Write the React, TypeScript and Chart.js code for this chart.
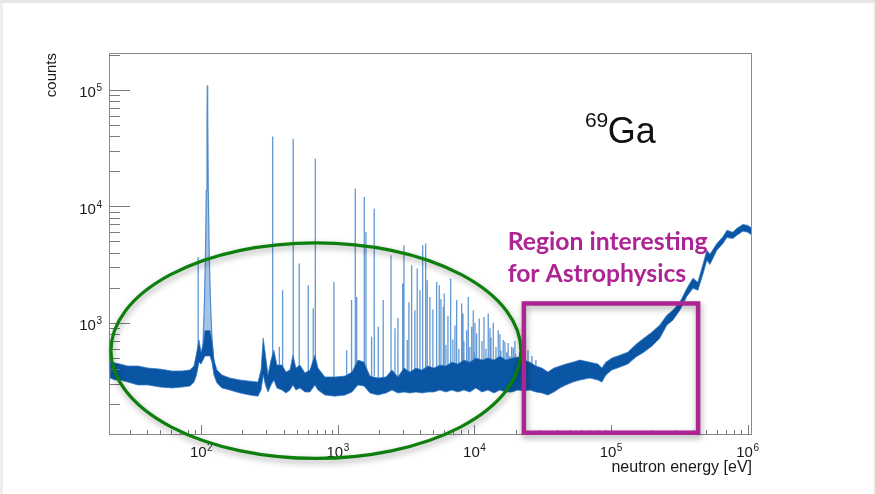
import React, { useEffect, useRef } from 'react';
import { Chart, registerables } from 'chart.js';

Chart.register(...registerables);

// ---------- data ----------
// smooth background band of the spectrum: energy [eV], lower / upper edge of the noise band [counts]
const bandEnergy = [
  21.5, 23.4, 25.4, 29.0, 34.4, 40.7, 49.8, 61.0, 72.3, 82.6, 88.5, 92.3, 96.2, 99.5, 102.9, 106.4,
  115.8, 119.8, 123.8, 130.2, 141.7, 162, 192, 227, 260, 274, 284, 295, 308, 324, 340, 358, 390, 417,
  446, 469, 493, 528, 574, 625, 679, 715, 804, 952, 1128, 1268, 1403, 1553, 1718, 1966, 2251, 2490,
  2754, 3046, 3370, 3730, 4127, 4565, 5050, 5587, 6180, 6838, 7565, 8370, 9250, 10240, 11350, 12550,
  13890, 15370, 17010, 18820, 20820, 23040, 25470, 28180, 31180, 34490, 38160, 42250, 46730, 52600,
  59200, 70000, 80100, 85700, 91700, 101400, 116200, 132800, 152000, 173900, 199000, 227600, 256600,
  283800, 319300, 359500, 398000, 432600, 470700, 503500, 529700, 596000, 659500, 705300, 779600,
  835500, 924000, 1004000, 1077000,
];
const bandLow = [
  336, 323, 323, 310, 293, 293, 281, 276, 281, 287, 310, 357, 460, 443, 479, 520,
  520, 460, 357, 304, 276, 265, 250, 240, 235, 265, 357, 293, 255, 293, 323, 276, 265, 250,
  265, 293, 265, 276, 255, 255, 293, 265, 240, 235, 240, 255, 293, 287, 250, 240, 250, 265,
  250, 255, 250, 255, 250, 255, 255, 265, 255, 265, 255, 265, 255, 276, 255, 265,
  250, 265, 255, 255, 265, 260, 265, 255, 250, 240, 255, 276, 293, 310,
  323, 336, 323, 310, 357, 394, 417, 443, 508, 560, 631, 739, 956,
  1055, 1285, 1690, 1980, 1905, 2612, 3450, 3170, 4200, 4800, 5400, 5290,
  5650, 6120, 5990, 5650,
];
const bandHigh = [
  470, 452, 443, 426, 426, 409, 401, 386, 386, 394, 426, 550, 711, 560, 644, 860,
  860, 711, 479, 394, 357, 336, 323, 316, 310, 394, 739, 528, 357, 479, 583, 434, 434, 378,
  394, 528, 409, 434, 371, 394, 528, 409, 343, 343, 349, 378, 479, 460, 349, 336, 343, 394,
  343, 409, 378, 409, 394, 426, 409, 434, 426, 460, 443, 479, 460, 499, 479, 499,
  479, 518, 479, 499, 508, 479, 460, 426, 409, 378, 409, 426, 443, 460,
  479, 460, 443, 409, 460, 499, 528, 560, 652, 739, 832, 956, 1164,
  1285, 1500, 1980, 2415, 2230, 3170, 4200, 3880, 4800, 5480, 6225, 5990,
  6480, 6990, 6860, 6480,
];

// the strong s-wave resonance near 110 eV (profile)
const resonanceEnergy = [99.5, 102.9, 105.5, 107.4, 108.8, 110.1, 110.6, 111.4, 112.5, 114.2, 116.7, 119.8, 123.8];
const resonanceCounts = [460, 644, 1565, 4200, 13700, 54600, 109000, 66500, 13700, 4200, 1565, 711, 460];

// narrow resonances: energy [eV], peak counts, counts at the foot of the peak
const peakEnergy = [
  94.9, 333, 373, 394, 471, 521, 607, 660, 684, 936, 1160, 1260, 1341, 1373, 1561, 1606, 1766, 1847,
  1976, 2148, 2448, 2618, 2754, 2981, 3046, 3221, 3313, 3468, 3664, 3811, 3990, 4176, 4393, 4512, 4721,
  4966, 5285, 5525, 5684, 5917, 6010, 6180, 6397, 6695, 6950, 7198, 7407, 7690, 8060, 8241, 8370, 8770,
  9015, 9250, 9550, 9800, 10000, 10090, 10370, 10840, 11350, 11740, 12140, 12620, 12990, 13210, 13740,
  14370, 14940, 15370, 15620, 16250, 16720, 17230, 17660, 18120, 18720, 19230, 19780, 20030, 21520,
  22940, 24660, 26350, 28180,
];
const peakCounts = [
  3680, 39800, 623, 1905, 38000, 3230, 2100, 1336, 25600, 2245, 583, 1567, 14200, 1670, 12000, 6030, 759, 9550,
  925, 1567, 3800, 900, 1100, 2178, 4640, 711, 1500, 3120, 1285, 2925, 1900, 4640, 4790, 2325, 1670,
  1300, 2245, 2100, 1600, 1372, 1785, 650, 1150, 2400, 720, 950, 1567, 600, 1466, 1200, 700, 866,
  1670, 620, 925, 1285, 560, 1000, 811, 1090, 700, 1125, 600, 1200, 900, 750, 1000,
  620, 866, 800, 580, 711, 687, 560, 670, 520, 623, 610, 700, 540, 560,
  500, 583, 520, 480,
];
const peakBase = [
  500, 400, 350, 380, 450, 380, 350, 380, 450, 330, 330, 340, 380, 400, 420, 400, 330, 350,
  320, 330, 360, 340, 340, 340, 360, 330, 340, 340, 340, 350, 350, 360, 360, 350, 350,
  350, 360, 360, 360, 360, 360, 360, 360, 380, 380, 380, 380, 380, 380, 380, 380, 380,
  380, 380, 380, 380, 380, 380, 380, 380, 380, 380, 380, 380, 380, 380, 380,
  380, 380, 380, 380, 380, 380, 380, 380, 380, 380, 380, 380, 380, 380,
  380, 380, 380, 380,
];

// axes
const xMin = 21.1;
const xMax = 1077000;
const yMin = 109;
const yMax = 207000;
const xDecades = [2, 3, 4, 5, 6];
const yDecades = [3, 4, 5];
const xTitle = 'neutron energy [eV]';
const yTitle = 'counts';

// annotations (data units)
const isotopeMass = '69';
const isotopeName = 'Ga';
const isotopeMassAt = { x: 64400, y: 47500 };
const isotopeNameAt = { x: 94800, y: 34800 };
const regionLines = ['Region interesting', 'for Astrophysics'];
const regionTextAt = [{ x: 17500, y: 4190 }, { x: 17500, y: 2246 }];
const regionBox = { x0: 23000, x1: 434000, y0: 114, y1: 1466 };
const ellipseBox = { x0: 21.8, x1: 21900, y0: 68.6, y1: 4860 };

// ---------- styling ----------
const FONT = '"Liberation Sans", Arial, Helvetica, sans-serif';
const BAND = '#0b56a4';
const MAGENTA = '#ad2593';
const GREEN = '#0d7f0d';

const overlayPlugin = {
  id: 'rootStyle',
  beforeDraw(chart: any) {
    const { ctx, width, height } = chart;
    ctx.save();
    ctx.fillStyle = '#ffffff';
    ctx.fillRect(0, 0, width, height);
    ctx.fillStyle = '#e6e6e6';
    ctx.fillRect(0, 0, width, 3);
    ctx.fillStyle = '#eeeeee';
    ctx.fillRect(0, 3, 3, height - 3);
    ctx.fillStyle = '#f1f1f1';
    ctx.fillRect(width - 2, 3, 2, height - 3);
    ctx.restore();
  },
  afterDatasetsDraw(chart: any) {
    const { ctx, chartArea: a } = chart;
    const xs = chart.scales.x;
    const ys = chart.scales.y;
    ctx.save();
    // frame
    ctx.strokeStyle = '#8a8a8a';
    ctx.lineWidth = 1;
    ctx.strokeRect(Math.round(a.left) + 0.5, Math.round(a.top) + 0.5, Math.round(a.right - a.left) - 1, Math.round(a.bottom - a.top) - 1);
    // y ticks (inside)
    ctx.strokeStyle = '#7a7a7a';
    ctx.beginPath();
    for (let n = 2; n <= 5; n++) {
      for (let k = 1; k <= 9; k++) {
        const v = k * Math.pow(10, n);
        if (v < yMin || v > yMax) continue;
        const py = Math.round(ys.getPixelForValue(v)) + 0.5;
        const len = k === 1 ? 21 : 11;
        ctx.moveTo(a.left, py);
        ctx.lineTo(a.left + len, py);
      }
    }
    // x ticks (inside)
    for (let n = 1; n <= 6; n++) {
      for (let k = 1; k <= 9; k++) {
        const v = k * Math.pow(10, n);
        if (v < xMin || v > xMax) continue;
        const px = Math.round(xs.getPixelForValue(v)) + 0.5;
        const len = k === 1 ? 10 : 5;
        ctx.moveTo(px, a.bottom);
        ctx.lineTo(px, a.bottom - len);
      }
    }
    ctx.stroke();

    // tick labels 10^n
    ctx.fillStyle = '#1a1a1a';
    ctx.textBaseline = 'alphabetic';
    ctx.textAlign = 'left';
    const big = `15px ${FONT}`;
    const small = `10px ${FONT}`;
    for (const e of yDecades) {
      const py = ys.getPixelForValue(Math.pow(10, e));
      ctx.font = big;
      const w10 = ctx.measureText('10').width;
      ctx.font = small;
      const we = ctx.measureText(String(e)).width;
      const right = a.left - 7;
      const start = right - we - w10 - 0.5;
      ctx.font = big;
      ctx.fillText('10', start, py + 7.5);
      ctx.font = small;
      ctx.fillText(String(e), start + w10 + 0.5, py + 1.5);
    }
    for (const e of xDecades) {
      const px = xs.getPixelForValue(Math.pow(10, e));
      ctx.font = big;
      const w10 = ctx.measureText('10').width;
      ctx.font = small;
      const we = ctx.measureText(String(e)).width;
      const start = px - (w10 + we + 0.5) / 2;
      ctx.font = big;
      ctx.fillText('10', start, a.bottom + 22);
      ctx.font = small;
      ctx.fillText(String(e), start + w10 + 0.5, a.bottom + 15.5);
    }

    // axis titles
    ctx.font = `16px ${FONT}`;
    ctx.textAlign = 'right';
    ctx.fillText(xTitle, a.right, a.bottom + 37);
    ctx.save();
    ctx.translate(52, a.top);
    ctx.rotate(-Math.PI / 2);
    ctx.font = `15px ${FONT}`;
    ctx.textAlign = 'right';
    ctx.textBaseline = 'middle';
    ctx.fillText(yTitle, 0, 0);
    ctx.restore();
    ctx.restore();
  },
  afterDraw(chart: any) {
    const { ctx } = chart;
    const xs = chart.scales.x;
    const ys = chart.scales.y;
    ctx.save();

    // isotope label
    ctx.fillStyle = '#111111';
    ctx.textAlign = 'left';
    ctx.textBaseline = 'alphabetic';
    ctx.font = `21px ${FONT}`;
    ctx.fillText(isotopeMass, xs.getPixelForValue(isotopeMassAt.x), ys.getPixelForValue(isotopeMassAt.y));
    ctx.font = `36px ${FONT}`;
    ctx.fillText(isotopeName, xs.getPixelForValue(isotopeNameAt.x), ys.getPixelForValue(isotopeNameAt.y));

    // green ellipse
    const ex0 = xs.getPixelForValue(ellipseBox.x0);
    const ex1 = xs.getPixelForValue(ellipseBox.x1);
    const ey0 = ys.getPixelForValue(ellipseBox.y1);
    const ey1 = ys.getPixelForValue(ellipseBox.y0);
    ctx.save();
    ctx.shadowColor = 'rgba(0,0,0,0.35)';
    ctx.shadowBlur = 6;
    ctx.shadowOffsetX = 1;
    ctx.shadowOffsetY = 3;
    ctx.strokeStyle = GREEN;
    ctx.lineWidth = 3.2;
    ctx.beginPath();
    ctx.ellipse((ex0 + ex1) / 2, (ey0 + ey1) / 2, (ex1 - ex0) / 2, (ey1 - ey0) / 2, 0, 0, Math.PI * 2);
    ctx.stroke();
    ctx.restore();

    // magenta box
    const bx0 = xs.getPixelForValue(regionBox.x0);
    const bx1 = xs.getPixelForValue(regionBox.x1);
    const by0 = ys.getPixelForValue(regionBox.y1);
    const by1 = ys.getPixelForValue(regionBox.y0);
    ctx.save();
    ctx.shadowColor = 'rgba(0,0,0,0.35)';
    ctx.shadowBlur = 6;
    ctx.shadowOffsetX = 1;
    ctx.shadowOffsetY = 3;
    ctx.strokeStyle = MAGENTA;
    ctx.lineWidth = 4.5;
    ctx.lineJoin = 'miter';
    ctx.strokeRect(bx0, by0, bx1 - bx0, by1 - by0);
    ctx.restore();

    // region text
    ctx.fillStyle = MAGENTA;
    let size = 24;
    ctx.font = `bold ${size}px Lato, "Open Sans", sans-serif`;
    const w = ctx.measureText(regionLines[0]).width;
    size = Math.max(16, Math.min(30, (size * 200) / w));
    ctx.font = `bold ${size}px Lato, "Open Sans", sans-serif`;
    regionLines.forEach((line, i) => {
      ctx.fillText(line, xs.getPixelForValue(regionTextAt[i].x), ys.getPixelForValue(regionTextAt[i].y));
    });
    ctx.restore();
  },
};

export default function App() {
  const ref = useRef<HTMLCanvasElement | null>(null);

  useEffect(() => {
    if (!ref.current) return;
    const lower = bandEnergy.map((e, i) => ({ x: e, y: bandLow[i] }));
    const upper = bandEnergy.map((e, i) => ({ x: e, y: bandHigh[i] }));
    const resonance = resonanceEnergy.map((e, i) => ({ x: e, y: resonanceCounts[i] }));
    const peaks: { x: number; y: number | null }[] = [];
    peakEnergy.forEach((e, i) => {
      peaks.push({ x: e, y: peakBase[i] });
      peaks.push({ x: e, y: peakCounts[i] });
      peaks.push({ x: e, y: null });
    });

    const chart = new Chart(ref.current, {
      type: 'line',
      data: {
        datasets: [
          {
            label: 'band-low',
            data: lower,
            borderColor: 'rgba(50,120,195,0.75)',
            borderWidth: 1,
            pointRadius: 0,
            fill: false,
            tension: 0,
            order: 1,
          },
          {
            label: 'band-high',
            data: upper,
            borderColor: 'rgba(50,120,195,0.75)',
            backgroundColor: BAND,
            borderWidth: 1,
            pointRadius: 0,
            fill: '-1',
            tension: 0,
            order: 2,
          },
          {
            label: 'resonance',
            data: resonance,
            borderColor: 'rgba(60,125,200,0.85)',
            backgroundColor: 'rgba(90,150,215,0.55)',
            borderWidth: 1.2,
            pointRadius: 0,
            fill: { target: 0 },
            tension: 0,
            order: 3,
          },
          {
            label: 'peaks',
            data: peaks as any,
            borderColor: 'rgba(60,128,200,0.8)',
            borderWidth: 1.3,
            pointRadius: 0,
            fill: false,
            spanGaps: false,
            tension: 0,
            order: 4,
          },
        ],
      },
      options: {
        animation: false,
        responsive: false,
        devicePixelRatio: 1,
        layout: { padding: { left: 109, right: 123, top: 53, bottom: 59 } },
        plugins: { legend: { display: false }, tooltip: { enabled: false } },
        events: [],
        scales: {
          x: { type: 'logarithmic', min: xMin, max: xMax, display: false },
          y: { type: 'logarithmic', min: yMin, max: yMax, display: false },
        },
      },
      plugins: [overlayPlugin],
    });
    return () => chart.destroy();
  }, []);

  return (
    <div style={{ position: 'fixed', left: 0, top: 0, width: 875, height: 494, background: '#fff' }}>
      <canvas ref={ref} width={875} height={494} style={{ display: 'block' }} />
    </div>
  );
}
